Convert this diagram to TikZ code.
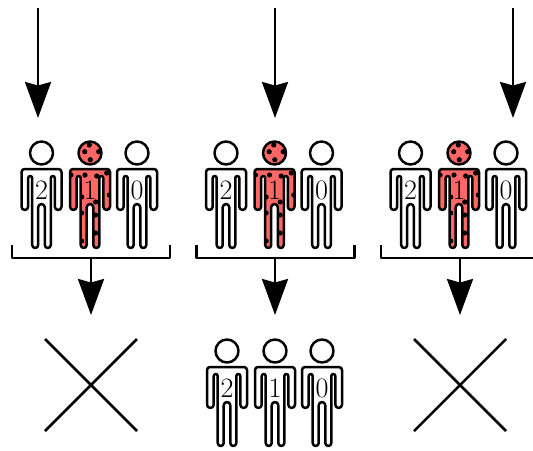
\documentclass[tikz,border=0pt]{standalone}
\usepackage{amsmath}
\usetikzlibrary{arrows.meta,positioning,calc}
\definecolor{infected}{HTML}{FF6666}
\tikzset{
  outline/.style={line width=0.05cm,line join=round},
  bigarrow/.style={line width=0.05cm,-{Stealth[length=0.72cm,width=0.52cm,inset=0.07cm]}},
  digit/.style={inner sep=0pt,font=\fontsize{16}{18}\selectfont},
  spot/.style={fill=black},
}
% body outline, top of the shoulders at the origin
\newcommand{\bodypath}{(3.3,76) arc (180:0:3) -- (9.3,9) arc (180:360:2) -- (13.3,37.65) arc (180:0:3.35)
  -- (20,3) arc (0:-90:3) -- (-17,0) arc (-90:-180:3) -- (-20,37.65) arc (180:0:3.35)
  -- (-13.3,9) arc (180:360:2) -- (-9.3,76) arc (180:0:3) -- (-3.3,38.3) arc (180:360:3.3) -- cycle}
\newcommand{\person}[4]{
  \begin{scope}[shift={(#2,#3)}]
    \draw[outline] (0,-16) circle (11.5);
    \draw[outline] \bodypath;
    \node[digit] (#1) at (0,21) {#4};
  \end{scope}
}
\newcommand{\sickperson}[4]{
  \begin{scope}[shift={(#2,#3)}]
    \fill[infected] (0,-16) circle (11.5);
    \fill[infected] \bodypath;
    \begin{scope}
      \clip (0,-16) circle (11.5);
      \foreach \dx/\dy in {-0.7/-24,8.7/-17.3,0.3/-9.3,-5.3/-17.3}
        \fill[spot] (\dx,\dy) circle (2.6);
    \end{scope}
    \begin{scope}
      \clip \bodypath;
      \foreach \dx/\dy in {-19/6,-5/6,6.7/7,16.7/4,19.3/26,-8.3/28,5.7/33,-8.3/44,5.7/46,5.7/64,-8.3/72}
        \fill[spot] (\dx,\dy) circle (2.6);
    \end{scope}
    \draw[outline] (0,-16) circle (11.5);
    \draw[outline] \bodypath;
    \node[digit] (#1) at (0,21) {#4};
  \end{scope}
}

\begin{document}
\begin{tikzpicture}[x=0.02cm,y=-0.02cm]
  \useasboundingbox (0,0) rectangle (533,450);
  % three upper groups
  \foreach \g/\sx/\topx/\midx in {a/0/38/91,b/184.5/275/275,c/369/513/460}{
    \begin{scope}[xshift=\sx*0.02cm]
      \person{two\g}{41.5}{169}{2}
      \sickperson{one\g}{90}{169}{1}
      \person{zero\g}{137}{169}{0}
      \draw[outline] (12,245) -- (12,258) -- (170,258) -- (170,245);
    \end{scope}
    \coordinate (top\g) at (\topx,8);
    \coordinate (tip\g) at (\topx,118);
    \coordinate (bar\g) at (\midx,258);
    \coordinate (end\g) at (\midx,315);
    \draw[bigarrow] (top\g) -- (tip\g);
    \draw[bigarrow] (bar\g) -- (end\g);
  }
  % bottom row
  \foreach \cx in {91,460}{
    \draw[outline] (\cx-46,339) -- (\cx+46,431);
    \draw[outline] (\cx+46,339) -- (\cx-46,431);
  }
  \person{twod}{227}{367}{2}
  \person{oned}{275}{367}{1}
  \person{zerod}{322}{367}{0}
\end{tikzpicture}
\end{document}
